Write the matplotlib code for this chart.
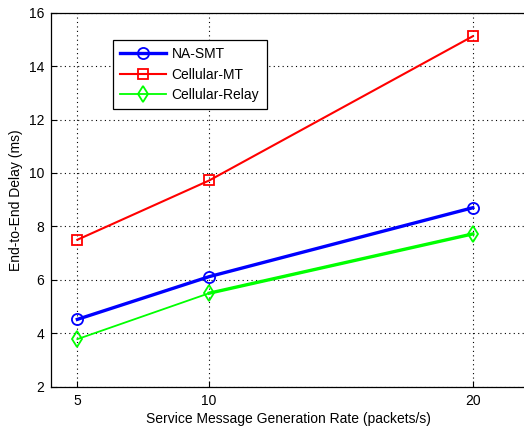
import matplotlib.pyplot as plt

rate = [5, 10, 20]
na_smt = [4.52, 6.12, 8.7]
cellular_mt = [7.5, 9.72, 15.12]
cellular_relay = [3.78, 5.5, 7.72]

plt.rcParams['font.family'] = 'Liberation Sans'
plt.rcParams['font.size'] = 10

fig = plt.figure(figsize=(5.24, 4.28), dpi=100)
ax = fig.add_axes([0.0973, 0.0965, 0.9057, 0.8738])

ax.plot(rate, na_smt, color='#0000ff', lw=2.4, marker='o', ms=8, mfc='none', mew=1.3, label='NA-SMT')
ax.plot(rate, cellular_mt, color='#ff0000', lw=1.5, marker='s', ms=7, mfc='none', mew=1.3, label='Cellular-MT')
ax.plot(rate, cellular_relay, color='#00ff00', lw=1.3, marker='d', ms=8, mfc='none', mew=1.3, label='Cellular-Relay')
# last segment of relay curve looks heavier in the original
ax.plot(rate[1:], cellular_relay[1:], color='#00ff00', lw=2.4)

ax.set_xlim(4, 22)
ax.set_ylim(2, 16)
ax.set_xticks(rate)
ax.set_yticks(range(2, 17, 2))
ax.tick_params(direction='in', length=4, width=0.8, pad=5)
ax.grid(True, color='black', linestyle=(0, (1, 3)), linewidth=0.8)
for s in ax.spines.values():
    s.set_linewidth(0.9)
# original image is cropped just before the right border
ax.spines['right'].set_visible(False)

ax.set_xlabel('Service Message Generation Rate (packets/s)', labelpad=3)
ax.set_ylabel('End-to-End Delay (ms)', labelpad=4)

leg = ax.legend(loc='upper left', bbox_to_anchor=(0.13, 0.928), fancybox=False,
                edgecolor='black', framealpha=1, handlelength=3.3, borderpad=0.55,
                labelspacing=0.45, handletextpad=0.4, borderaxespad=0)
leg.get_frame().set_linewidth(0.9)

fig.savefig('out.png', dpi=100)
